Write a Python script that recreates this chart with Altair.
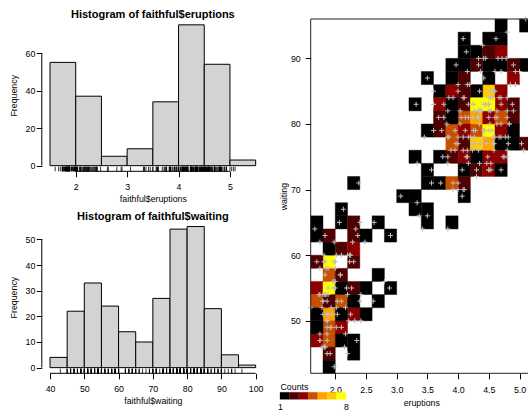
import math
import altair as alt
import pandas as pd

# ---- data: Old Faithful (eruption length, waiting time) ----
eruptions = [
    3.600, 1.800, 3.333, 2.283, 4.533, 2.883, 4.700, 3.600, 1.950, 4.350,
    1.833, 3.917, 4.200, 1.750, 4.700, 2.167, 1.750, 4.800, 1.600, 4.250,
    1.800, 1.750, 3.450, 3.067, 4.533, 3.600, 1.967, 4.083, 3.850, 4.433,
    4.300, 4.467, 3.367, 4.033, 3.833, 2.017, 1.867, 4.833, 1.833, 4.783,
    4.350, 1.883, 4.567, 1.750, 4.533, 3.317, 3.833, 2.100, 4.633, 2.000,
    4.800, 4.716, 1.833, 4.833, 1.733, 4.883, 3.717, 1.667, 4.567, 4.317,
    2.233, 4.500, 1.750, 4.800, 1.817, 4.400, 4.167, 4.700, 2.067, 4.700,
    4.033, 1.967, 4.500, 4.000, 1.983, 5.067, 2.017, 4.567, 3.883, 3.600,
    4.133, 4.333, 4.100, 2.633, 4.067, 4.933, 3.950, 4.517, 2.167, 4.000,
    2.200, 4.333, 1.867, 4.817, 1.833, 4.300, 4.667, 3.750, 1.867, 4.900,
    2.483, 4.367, 2.100, 4.500, 4.050, 1.867, 4.700, 1.783, 4.850, 3.683,
    4.733, 2.300, 4.900, 4.417, 1.700, 4.633, 2.317, 4.600, 1.817, 4.417,
    2.617, 4.067, 4.250, 1.967, 4.600, 3.767, 1.917, 4.500, 2.267, 4.650,
    1.867, 4.167, 2.800, 4.333, 1.833, 4.383, 1.883, 4.933, 2.033, 3.733,
    4.233, 2.233, 4.533, 4.817, 4.333, 1.983, 4.633, 2.017, 5.100, 1.800,
    5.033, 4.000, 2.400, 4.600, 3.567, 4.000, 4.500, 4.083, 1.800, 3.967,
    2.200, 4.150, 2.000, 3.833, 3.500, 4.583, 2.367, 5.000, 1.933, 4.617,
    1.917, 2.083, 4.583, 3.333, 4.167, 4.333, 4.500, 2.417, 4.000, 4.167,
    1.883, 4.583, 4.250, 3.767, 2.033, 4.433, 4.083, 1.833, 4.417, 2.183,
    4.800, 1.833, 4.800, 4.100, 3.966, 4.233, 3.500, 4.366, 2.250, 4.667,
    2.100, 4.350, 4.133, 1.867, 4.600, 1.783, 4.367, 3.850, 1.933, 4.500,
    2.383, 4.700, 1.867, 3.833, 3.417, 4.233, 2.400, 4.800, 2.000, 4.150,
    1.867, 4.267, 1.750, 4.483, 4.000, 4.117, 4.083, 4.267, 3.917, 4.550,
    4.083, 2.417, 4.183, 2.217, 4.450, 1.883, 1.850, 4.283, 3.950, 2.333,
    4.150, 2.350, 4.933, 2.900, 4.583, 3.833, 2.083, 4.367, 2.133, 4.350,
    2.200, 4.450, 3.567, 4.500, 4.150, 3.817, 3.917, 4.450, 2.000, 4.283,
    4.767, 4.533, 1.850, 4.250, 1.983, 2.250, 4.750, 4.117, 2.150, 4.417,
    1.817, 4.467,
]
waiting = [
    79, 54, 74, 62, 85, 55, 88, 85, 51, 85,
    54, 84, 78, 47, 83, 52, 62, 84, 52, 79,
    51, 47, 78, 69, 74, 83, 55, 76, 78, 79,
    73, 77, 66, 80, 74, 52, 48, 80, 59, 90,
    80, 58, 84, 58, 73, 83, 64, 53, 82, 59,
    75, 90, 54, 80, 54, 83, 71, 64, 77, 81,
    59, 84, 48, 82, 60, 92, 78, 78, 65, 73,
    82, 56, 79, 71, 62, 76, 60, 78, 76, 83,
    75, 82, 70, 65, 73, 88, 76, 80, 48, 86,
    60, 90, 50, 78, 63, 72, 84, 75, 51, 82,
    62, 88, 49, 83, 81, 47, 84, 52, 86, 81,
    75, 59, 89, 79, 59, 81, 50, 85, 59, 87,
    53, 69, 77, 56, 88, 81, 45, 82, 55, 90,
    45, 83, 56, 89, 46, 82, 51, 86, 53, 79,
    81, 60, 82, 77, 76, 59, 80, 49, 96, 53,
    77, 77, 65, 81, 71, 70, 81, 93, 53, 89,
    45, 86, 58, 78, 66, 76, 63, 88, 52, 93,
    49, 57, 77, 68, 81, 81, 73, 50, 85, 74,
    55, 77, 83, 83, 51, 78, 84, 46, 83, 55,
    81, 57, 76, 84, 77, 81, 87, 77, 51, 78,
    60, 82, 91, 53, 78, 46, 77, 84, 49, 83,
    71, 80, 49, 75, 64, 76, 53, 94, 55, 76,
    50, 82, 54, 75, 78, 79, 78, 78, 70, 79,
    70, 54, 86, 50, 90, 54, 54, 77, 79, 64,
    75, 47, 86, 63, 85, 82, 57, 82, 67, 74,
    54, 83, 73, 73, 88, 80, 71, 83, 56, 79,
    78, 84, 58, 83, 43, 60, 75, 81, 46, 90,
    46, 74,
]

# histogram bins and counts
erupt_breaks = [1.5, 2.0, 2.5, 3.0, 3.5, 4.0, 4.5, 5.0, 5.5]
erupt_counts = [55, 37, 5, 9, 34, 75, 54, 3]
wait_breaks = [40, 45, 50, 55, 60, 65, 70, 75, 80, 85, 90, 95, 100]
wait_counts = [4, 22, 33, 24, 14, 10, 27, 54, 55, 23, 5, 1]

# 2-D histogram grid and colour key
x_step, x_lo, x_hi = 0.2, 1.6, 5.2
y_step, y_lo, y_hi = 2, 42, 96
heat_colors = ["#000000", "#4F0000", "#8E0000", "#C85000", "#FFA200", "#FFCC00", "#FFFF00"]
key_levels = [1, 2, 3, 4, 5, 6, 7]
key_max = 8

titles = ["Histogram of faithful$eruptions", "Histogram of faithful$waiting"]

FONT = "Liberation Sans"
FS = 8.8
W, H = 528, 411


def sc(domain, rng):
    return alt.Scale(domain=domain, range=rng, nice=False, zero=False)


def xaxis(values, title, axis_y, label_pad, title_y, fmt=None):
    kw = dict(values=values, orient="bottom", offset=axis_y - H, title=title,
              domain=False, grid=False, tickSize=5.5, tickColor="black", tickWidth=1,
              labelFont=FONT, labelFontSize=FS, labelColor="black", labelPadding=label_pad,
              labelBaseline="middle", labelFlush=False, labelOverlap=False,
              titleFont=FONT, titleFontSize=FS, titleFontWeight="normal", titleColor="black",
              titleBaseline="middle", titleY=title_y)
    if fmt:
        kw["format"] = fmt
    return alt.Axis(**kw)


def yaxis(values, title, axis_x, label_pad, title_x):
    return alt.Axis(values=values, orient="left", offset=-axis_x, title=title,
                    domain=False, grid=False, tickSize=5.5, tickColor="black", tickWidth=1,
                    labelFont=FONT, labelFontSize=FS, labelColor="black", labelPadding=label_pad,
                    labelFlush=False, labelOverlap=False,
                    titleFont=FONT, titleFontSize=FS, titleFontWeight="normal", titleColor="black",
                    titleBaseline="middle", titleX=title_x)


def hist_panel(breaks, counts, raw, xdom, ydom, xr, yr, xticks, yticks, xtitle, title, title_y):
    XS, YS = sc(xdom, xr), sc(ydom, yr)
    bars = pd.DataFrame({"start": breaks[:-1], "end": breaks[1:], "count": counts, "zero": 0})
    bar_layer = alt.Chart(bars).mark_rect(fill="#D3D3D3", stroke="black", strokeWidth=1).encode(
        x=alt.X("start:Q", scale=XS,
                axis=xaxis(xticks, xtitle, yr[0], 9.5, 27)),
        x2="end:Q",
        y=alt.Y("zero:Q", scale=YS,
                axis=yaxis(yticks, "Frequency", xr[0], 1.5, 13.3 - xr[0])),
        y2="count:Q",
    )
    rug_top = ydom[0] + 0.03 * (ydom[1] - ydom[0])
    rug = pd.DataFrame({"v": raw, "y0": ydom[0], "y1": rug_top})
    rug_layer = alt.Chart(rug).mark_rule(color="black", strokeWidth=0.8).encode(
        x=alt.X("v:Q", scale=XS, axis=None),
        y=alt.Y("y0:Q", scale=YS, axis=None),
        y2="y1:Q",
    )
    lines = pd.DataFrame({
        "x": [xticks[0], xdom[0]], "x2": [xticks[-1], xdom[0]],
        "y": [ydom[0], yticks[0]], "y2": [ydom[0], yticks[-1]],
    })
    line_layer = alt.Chart(lines).mark_rule(color="black", strokeWidth=1).encode(
        x=alt.X("x:Q", scale=XS, axis=None), x2="x2:Q",
        y=alt.Y("y:Q", scale=YS, axis=None), y2="y2:Q",
    )
    ttl = alt.Chart(pd.DataFrame({"t": [title]})).mark_text(
        font=FONT, fontSize=11, fontWeight="bold", color="black", baseline="middle"
    ).encode(text="t:N", x=alt.value((xr[0] + xr[1]) / 2), y=alt.value(title_y))
    return [bar_layer, rug_layer, line_layer, ttl]


h1 = hist_panel(erupt_breaks, erupt_counts, eruptions, [1.34, 5.66], [-3, 78],
                [41.8, 263.9], [171.3, 19.2], [2, 3, 4, 5], [0, 20, 40, 60],
                "faithful$eruptions", titles[0], 15)
h2 = hist_panel(wait_breaks, wait_counts, waiting, [37.6, 102.4], [-2.2, 57.2],
                [41.8, 263.9], [373.3, 220.9], [40, 50, 60, 70, 80, 90, 100],
                [0, 10, 20, 30, 40, 50], "faithful$waiting", titles[1], 216.7)

# ---- 2-D histogram (cell index = floor((value - lo) / step), as a float) ----
nx = int(round((x_hi - x_lo) / x_step))
ny = int(round((y_hi - y_lo) / y_step))
cells = {}
for e, w in zip(eruptions, waiting):
    ix = min(int(math.floor((e - x_lo) / x_step)), nx - 1)
    iy = min(int(math.floor((w - y_lo) / y_step)), ny - 1)
    cells[(ix, iy)] = cells.get((ix, iy), 0) + 1
heat = pd.DataFrame([
    {"xs": round(x_lo + ix * x_step, 3), "xe": round(x_lo + (ix + 1) * x_step, 3),
     "ys": y_lo + iy * y_step, "ye": y_lo + (iy + 1) * y_step, "n": n}
    for (ix, iy), n in cells.items()
])
pts = pd.DataFrame({"eruptions": eruptions, "waiting": waiting})

HXR, HYR = [310.7, 531.8], [373.3, 19.0]
HX, HY = sc([x_lo, x_hi], HXR), sc([y_lo, y_hi], HYR)
cscale = alt.Scale(type="quantize", domain=[1, key_max], range=heat_colors)

heat_layer = alt.Chart(heat).mark_rect(strokeWidth=0.4).encode(
    x=alt.X("xs:Q", scale=HX,
            axis=xaxis([2.0, 2.5, 3.0, 3.5, 4.0, 4.5, 5.0], "eruptions", HYR[0], 11, 29, ".1f")),
    x2="xe:Q",
    y=alt.Y("ys:Q", scale=HY,
            axis=yaxis([50, 60, 70, 80, 90], "waiting", HXR[0], 5, 283 - HXR[0])),
    y2="ye:Q",
    color=alt.Color("n:Q", scale=cscale, legend=None),
    stroke=alt.Stroke("n:Q", scale=cscale, legend=None),
)
pt_layer = alt.Chart(pts).mark_point(
    shape="M-1,0L1,0M0,-1L0,1", size=25, filled=False, stroke="#BEBEBE", strokeWidth=1, opacity=1
).encode(
    x=alt.X("eruptions:Q", scale=HX, axis=None),
    y=alt.Y("waiting:Q", scale=HY, axis=None),
)
frame = alt.Chart(pd.DataFrame({"x": [x_lo], "x2": [x_hi], "y": [y_lo], "y2": [y_hi]})).mark_rect(
    fill=None, fillOpacity=0, stroke="#222222", strokeWidth=1
).encode(
    x=alt.X("x:Q", scale=HX, axis=None), x2="x2:Q",
    y=alt.Y("y:Q", scale=HY, axis=None), y2="y2:Q",
)

# ---- colour key "Counts": one block per count level on its own scale ----
KX0, KX1, KY0, KY1 = 280, 346, 399.3, 392.3
key = pd.DataFrame({"lo": key_levels, "hi": key_levels[1:] + [key_max], "a": 0, "b": 1})
key_layer = alt.Chart(key).mark_rect(strokeWidth=0.3).encode(
    x=alt.X("lo:Q", scale=sc([key_levels[0], key_max], [KX0, KX1]),
            axis=alt.Axis(values=[key_levels[0], key_max], orient="bottom", offset=KY0 - H,
                          domain=False, grid=False, ticks=False, tickSize=0,
                          labelFont=FONT, labelFontSize=FS, labelColor="black",
                          labelPadding=7.2, labelBaseline="middle", labelFlush=False,
                          labelOverlap=False, format="d",
                          title="Counts", titleFont=FONT, titleFontSize=FS,
                          titleFontWeight="normal", titleColor="black",
                          titleAlign="left", titleBaseline="middle",
                          titleX=KX0, titleY=386.5 - KY0)),
    x2="hi:Q",
    y=alt.Y("a:Q", scale=sc([0, 1], [KY0, KY1]), axis=None),
    y2="b:Q",
    color=alt.Color("lo:Q", scale=cscale, legend=None),
    stroke=alt.Stroke("lo:Q", scale=cscale, legend=None),
)

chart = alt.layer(*(h1 + h2 + [heat_layer, pt_layer, frame, key_layer])).resolve_scale(
    x="independent", y="independent", color="independent", stroke="independent"
).resolve_axis(x="independent", y="independent").properties(
    width=W, height=H, padding=0, autosize=alt.AutoSizeParams(type="none"),
    background="white",
).configure_view(stroke=None)

chart.save("out.html", embed_options={"renderer": "svg", "actions": False})
